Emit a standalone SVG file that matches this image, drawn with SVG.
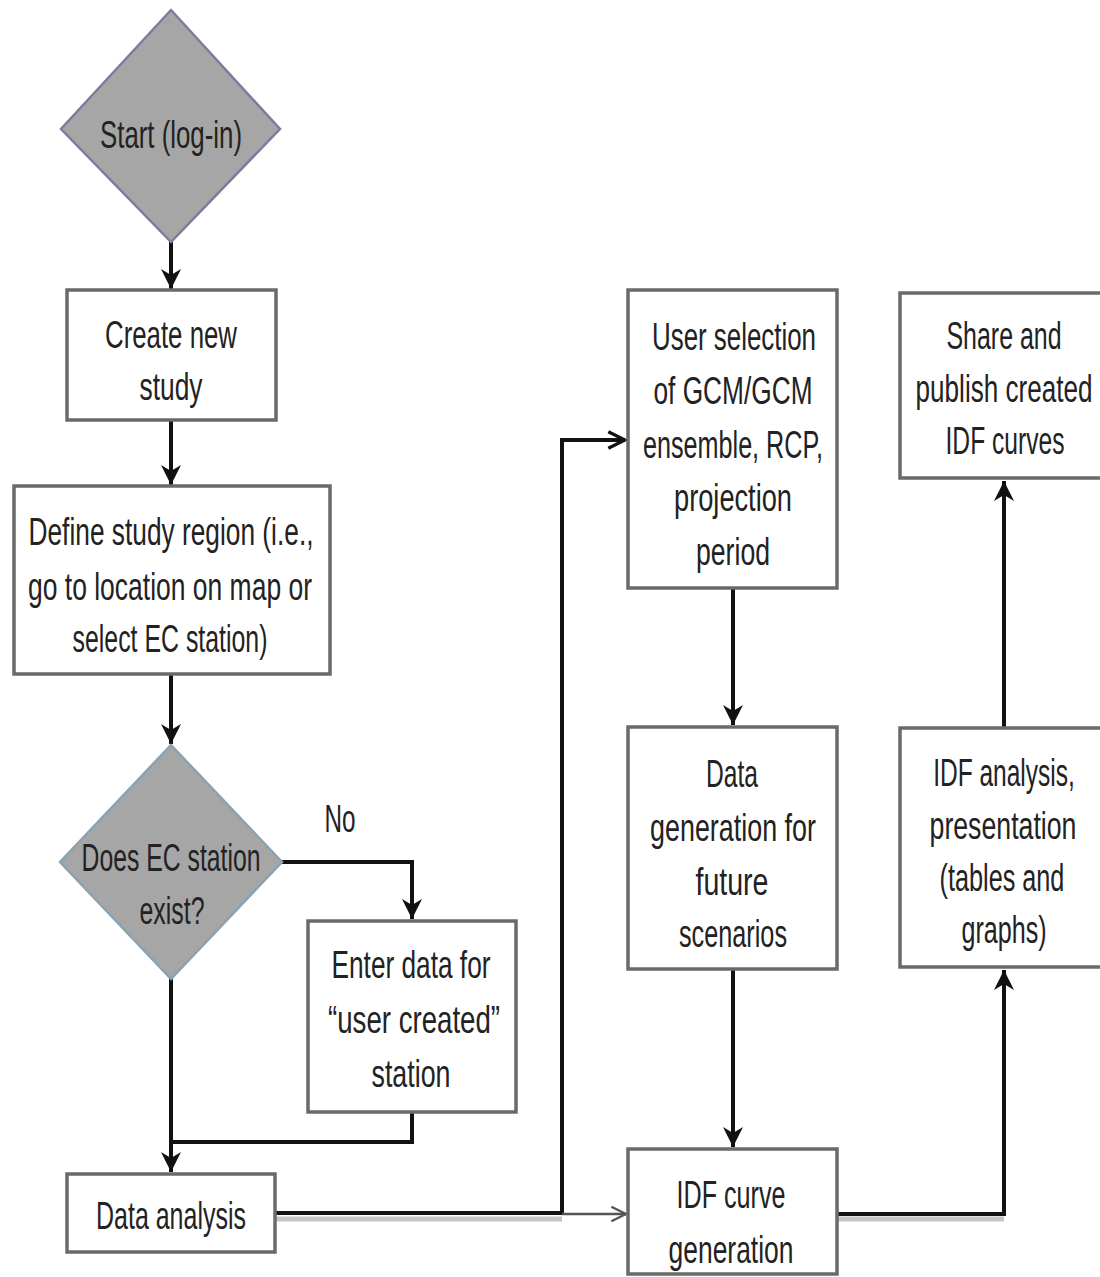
<svg xmlns="http://www.w3.org/2000/svg" width="1100" height="1277" viewBox="0 0 1100 1277">
<style>
  .box { fill: #ffffff; stroke: #6a6a6a; stroke-width: 3.5; }
  .dia { fill: #a6a6a6; stroke-width: 2.5; }
  .t { font-family: "Liberation Sans Narrow", "Liberation Sans", Arial, sans-serif; font-size: 39px; fill: #222222; text-anchor: middle; }
  .c { fill: none; stroke: #111111; stroke-width: 4; }
  .shadow { fill: none; stroke: #c4c4c4; stroke-width: 5; }
</style>
<defs>
  <marker id="tri" viewBox="0 0 10 10" refX="10" refY="5" markerWidth="5" markerHeight="5" markerUnits="strokeWidth" orient="auto">
    <path d="M0,0 L10,5 L0,10 L3,5 z" fill="#111111"/>
  </marker>
  <marker id="chev" viewBox="0 0 12 12" refX="11" refY="6" markerWidth="5" markerHeight="5" markerUnits="strokeWidth" orient="auto">
    <path d="M1,1 L11,6 L1,11" fill="none" stroke="#111111" stroke-width="2"/>
  </marker>
  <marker id="chevg" viewBox="0 0 12 12" refX="11" refY="6" markerWidth="7" markerHeight="7" markerUnits="strokeWidth" orient="auto">
    <path d="M1,1 L11,6 L1,11" fill="none" stroke="#555555" stroke-width="1.6"/>
  </marker>
</defs>
<rect width="1100" height="1277" fill="#ffffff"/>

<g id="connectors">
  <path class="shadow" d="M276,1219 H562"/>
  <path class="shadow" d="M838,1219 H1004"/>
  <path class="c" d="M171,242 V289" marker-end="url(#tri)"/>
  <path class="c" d="M171,421 V485" marker-end="url(#tri)"/>
  <path class="c" d="M171,675 V744" marker-end="url(#tri)"/>
  <path class="c" d="M281,862 H412 V919" marker-end="url(#tri)"/>
  <path class="c" d="M412,1112 V1142 H171"/>
  <path class="c" d="M171,978 V1172" marker-end="url(#tri)"/>
  <path class="c" d="M276,1213 H562 V440 H625" stroke-width="5" marker-end="url(#chev)"/>
  <path d="M562,1214 H626" fill="none" stroke="#555555" stroke-width="2.5" marker-end="url(#chevg)"/>
  <path class="c" d="M733,589 V725" marker-end="url(#tri)"/>
  <path class="c" d="M733,969 V1147" marker-end="url(#tri)"/>
  <path class="c" d="M838,1214 H1004 V970" stroke-width="4.5" marker-end="url(#tri)"/>
  <path class="c" d="M1004,727 V481" marker-end="url(#tri)"/>
</g>

<g id="start">
  <polygon class="dia" stroke="#7c7c9c" points="171,10 280,129 171,242 61,129"/>
  <text class="t" x="171" y="148" textLength="142" lengthAdjust="spacingAndGlyphs">Start (log-in)</text>
</g>

<g id="create-study">
  <rect class="box" x="67" y="290" width="209" height="130"/>
  <text class="t" x="171" y="348" textLength="132" lengthAdjust="spacingAndGlyphs">Create new</text>
  <text class="t" x="171" y="400" textLength="63" lengthAdjust="spacingAndGlyphs">study</text>
</g>

<g id="define-region">
  <rect class="box" x="14" y="486" width="316" height="188"/>
  <text class="t" x="171" y="545" textLength="285" lengthAdjust="spacingAndGlyphs">Define study region (i.e.,</text>
  <text class="t" x="170" y="600" textLength="284" lengthAdjust="spacingAndGlyphs">go to location on map or</text>
  <text class="t" x="170" y="652" textLength="195" lengthAdjust="spacingAndGlyphs">select EC station)</text>
</g>

<g id="ec-exists">
  <polygon class="dia" stroke="#8aa2b2" points="171,745 282,862 171,979 60,862"/>
  <text class="t" x="171" y="871" textLength="179" lengthAdjust="spacingAndGlyphs">Does EC station</text>
  <text class="t" x="172" y="924" textLength="65" lengthAdjust="spacingAndGlyphs">exist?</text>
</g>

<g id="label-no">
  <text class="t" x="340" y="832" textLength="31" lengthAdjust="spacingAndGlyphs">No</text>
</g>

<g id="enter-data">
  <rect class="box" x="308" y="921" width="208" height="191"/>
  <text class="t" x="411" y="978" textLength="159" lengthAdjust="spacingAndGlyphs">Enter data for</text>
  <text class="t" x="414" y="1033" textLength="172" lengthAdjust="spacingAndGlyphs">“user created”</text>
  <text class="t" x="411" y="1087" textLength="79" lengthAdjust="spacingAndGlyphs">station</text>
</g>

<g id="data-analysis">
  <rect class="box" x="67" y="1174" width="208" height="78"/>
  <text class="t" x="171" y="1229" textLength="150" lengthAdjust="spacingAndGlyphs">Data analysis</text>
</g>

<g id="user-selection">
  <rect class="box" x="628" y="290" width="209" height="298"/>
  <text class="t" x="734" y="350" textLength="164" lengthAdjust="spacingAndGlyphs">User selection</text>
  <text class="t" x="733" y="404" textLength="159" lengthAdjust="spacingAndGlyphs">of GCM/GCM</text>
  <text class="t" x="733" y="458" textLength="180" lengthAdjust="spacingAndGlyphs">ensemble, RCP,</text>
  <text class="t" x="733" y="511" textLength="118" lengthAdjust="spacingAndGlyphs">projection</text>
  <text class="t" x="733" y="565" textLength="74" lengthAdjust="spacingAndGlyphs">period</text>
</g>

<g id="data-generation">
  <rect class="box" x="628" y="727" width="209" height="242"/>
  <text class="t" x="732" y="787" textLength="52" lengthAdjust="spacingAndGlyphs">Data</text>
  <text class="t" x="733" y="841" textLength="166" lengthAdjust="spacingAndGlyphs">generation for</text>
  <text class="t" x="732" y="895" textLength="73" lengthAdjust="spacingAndGlyphs">future</text>
  <text class="t" x="733" y="947" textLength="108" lengthAdjust="spacingAndGlyphs">scenarios</text>
</g>

<g id="idf-curve-generation">
  <rect class="box" x="628" y="1149" width="209" height="125"/>
  <text class="t" x="731" y="1208" textLength="109" lengthAdjust="spacingAndGlyphs">IDF curve</text>
  <text class="t" x="731" y="1263" textLength="125" lengthAdjust="spacingAndGlyphs">generation</text>
</g>

<g id="idf-analysis">
  <path class="box" d="M1100,728 H900 V967 H1100"/>
  <text class="t" transform="translate(1004,786) scale(0.65,1)" x="0" y="0" textLength="218" lengthAdjust="spacingAndGlyphs">IDF analysis,</text>
  <text class="t" transform="translate(1003,839) scale(0.65,1)" x="0" y="0" textLength="226" lengthAdjust="spacingAndGlyphs">presentation</text>
  <text class="t" transform="translate(1002,891) scale(0.65,1)" x="0" y="0" textLength="192" lengthAdjust="spacingAndGlyphs">(tables and</text>
  <text class="t" transform="translate(1004,943) scale(0.65,1)" x="0" y="0" textLength="131" lengthAdjust="spacingAndGlyphs">graphs)</text>
</g>

<g id="share-publish">
  <path class="box" d="M1100,293 H900 V478 H1100"/>
  <text class="t" transform="translate(1004,349) scale(0.65,1)" x="0" y="0" textLength="177" lengthAdjust="spacingAndGlyphs">Share and</text>
  <text class="t" transform="translate(1004,402) scale(0.65,1)" x="0" y="0" textLength="272" lengthAdjust="spacingAndGlyphs">publish created</text>
  <text class="t" transform="translate(1005,454) scale(0.65,1)" x="0" y="0" textLength="183" lengthAdjust="spacingAndGlyphs">IDF curves</text>
</g>
</svg>
